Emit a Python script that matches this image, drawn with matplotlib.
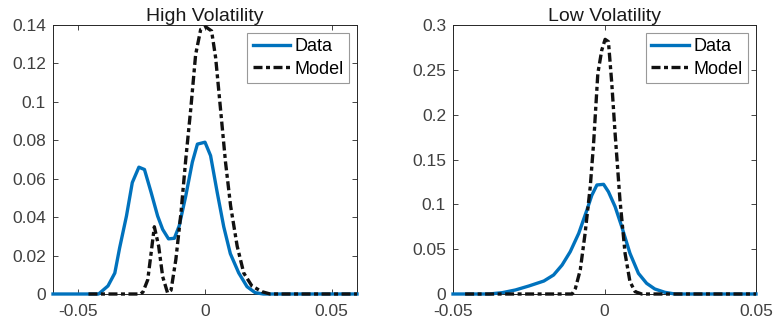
import matplotlib
matplotlib.use("Agg")
import matplotlib.pyplot as plt

plt.rcParams['font.family'] = ['Liberation Sans', 'DejaVu Sans']

# High volatility panel
hv_data_x = [-0.06, -0.042, -0.0383, -0.0356, -0.0337, -0.031, -0.0287, -0.0261, -0.0239, -0.0213,
             -0.0187, -0.0167, -0.0144, -0.0121, -0.0102, -0.0076, -0.005, -0.003, 0.0, 0.0022,
             0.0048, 0.0074, 0.010, 0.0133, 0.0166, 0.0198, 0.023, 0.06]
hv_data_y = [0, 0, 0.0042, 0.0109, 0.024, 0.0406, 0.058, 0.066, 0.0648, 0.053,
             0.0406, 0.0336, 0.0287, 0.029, 0.0354, 0.051, 0.0686, 0.078, 0.079, 0.072,
             0.053, 0.035, 0.021, 0.011, 0.0038, 0.0007, 0, 0]
hv_model_x = [-0.046, -0.0255, -0.0245, -0.0226, -0.0213, -0.020, -0.0183, -0.0167, -0.0148, -0.0134,
              -0.0115, -0.0095, -0.0076, -0.0056, -0.0037, -0.0017, 0.0003, 0.0026, 0.0042, 0.0061,
              0.0081, 0.0101, 0.0127, 0.0153, 0.0185, 0.0225, 0.0257, 0.06]
hv_model_y = [0, 0, 0.001, 0.0074, 0.021, 0.035, 0.025, 0.009, 0.0007, 0.002,
              0.018, 0.042, 0.070, 0.0966, 0.1246, 0.1377, 0.139, 0.1369, 0.123, 0.0966,
              0.0686, 0.0459, 0.0249, 0.0109, 0.0042, 0.0012, 0, 0]

# Low volatility panel
lv_data_x = [-0.05, -0.038, -0.0337, -0.0294, -0.025, -0.02, -0.0168, -0.014, -0.0113, -0.0085,
             -0.0058, -0.0042, -0.0025, -0.0003, 0.0013, 0.0035, 0.0057, 0.0084, 0.0112, 0.0139,
             0.0166, 0.0199, 0.0232, 0.05]
lv_data_y = [0, 0, 0.0015, 0.0045, 0.0089, 0.0145, 0.0212, 0.0323, 0.0472, 0.0677,
             0.0937, 0.110, 0.1216, 0.1223, 0.114, 0.0974, 0.075, 0.0454, 0.023, 0.0119,
             0.0056, 0.0019, 0, 0]
lv_model_x = [-0.046, -0.0107, -0.0096, -0.008, -0.0064, -0.0047, -0.0036, -0.0022, -0.0009, 0.0002,
              0.0013, 0.0024, 0.0035, 0.0051, 0.0068, 0.0084, 0.0101, 0.0123, 0.05]
lv_model_y = [0, 0, 0.0063, 0.0268, 0.0677, 0.1197, 0.168, 0.246, 0.272, 0.284,
              0.2814, 0.235, 0.179, 0.105, 0.045, 0.0138, 0.0026, 0, 0]

hv_yticks = [0, 0.02, 0.04, 0.06, 0.08, 0.1, 0.12, 0.14]
hv_yticklabels = ['0', '0.02', '0.04', '0.06', '0.08', '0.1', '0.12', '0.14']
lv_yticks = [0, 0.05, 0.1, 0.15, 0.2, 0.25, 0.3]
lv_yticklabels = ['0', '0.05', '0.1', '0.15', '0.2', '0.25', '0.3']
xticks = [-0.05, 0, 0.05]
xticklabels = ['-0.05', '0', '0.05']

BLUE = '#0072BD'
AXC = '#262626'
LBL = '#404040'

fig = plt.figure(figsize=(7.73, 3.28), dpi=100)
ax1 = fig.add_axes([53/773, 1 - 294/328, 304/773, 269/328])
ax2 = fig.add_axes([453/773, 1 - 294/328, 303/773, 269/328])

panels = [
    (ax1, hv_data_x, hv_data_y, hv_model_x, hv_model_y, (-0.06, 0.06), (0, 0.14),
     hv_yticks, hv_yticklabels, 'High Volatility'),
    (ax2, lv_data_x, lv_data_y, lv_model_x, lv_model_y, (-0.05, 0.05), (0, 0.3),
     lv_yticks, lv_yticklabels, 'Low Volatility'),
]

for ax, dx, dy, mx, my, xl, yl, yt, ytl, title in panels:
    ax.plot(dx, dy, color=BLUE, lw=2.4, label='Data', clip_on=False, zorder=3)
    ax.plot(mx, my, color='#111111', lw=2.4, linestyle=(0, (2.7, 1.05, 1.2, 1.05)),
            label='Model', clip_on=False, zorder=4)
    ax.set_xlim(*xl)
    ax.set_ylim(*yl)
    ax.set_xticks(xticks)
    ax.set_xticklabels(xticklabels)
    ax.set_yticks(yt)
    ax.set_yticklabels(ytl)
    ax.tick_params(direction='in', length=3.5, width=0.6, colors=AXC, labelcolor=LBL,
                   labelsize=12.5, top=True, right=True)
    ax.tick_params(axis='x', pad=7)
    ax.tick_params(axis='y', pad=5)
    for s in ax.spines.values():
        s.set_color(AXC)
        s.set_linewidth(0.7)
    ax.set_title(title, fontsize=14, color='#1a1a1a', pad=3)
    leg = ax.legend(loc='upper right', fontsize=13, frameon=True, fancybox=False,
                    handlelength=2.1, handletextpad=0.22, borderpad=0.3, labelspacing=0.3,
                    borderaxespad=0.44)
    leg.get_frame().set_edgecolor('#808080')
    leg.get_frame().set_linewidth(0.8)

fig.savefig('out.png', dpi=100)
